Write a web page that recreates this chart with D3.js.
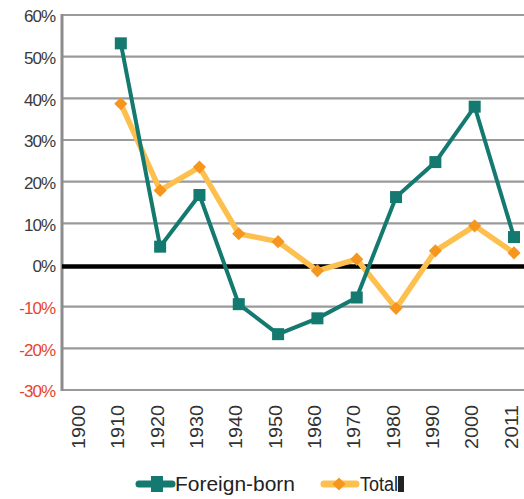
<!DOCTYPE html>
<html><head><meta charset="utf-8">
<script src="https://cdn.jsdelivr.net/npm/d3@7/dist/d3.min.js"></script>
<style>body{margin:0;background:#fff}svg{display:block}</style>
</head><body><svg id="c" width="524" height="499"></svg>
<script>
const years = ["1900","1910","1920","1930","1940","1950","1960","1970","1980","1990","2000","2011"];
const foreignBorn = [null,53.2,4.4,16.8,-9.4,-16.6,-12.8,-7.8,16.3,24.7,38.0,6.7];
const total = [null,38.7,17.9,23.5,7.5,5.6,-1.4,1.4,-10.4,3.4,9.4,2.9];
const yTicks = [60,50,40,30,20,10,0,-10,-20,-30];
const seriesNames = ["Foreign-born","Total"];

const svg = d3.select("#c");
const x = d3.scalePoint().domain(years).range([81.5,514]);
const y = d3.scaleLinear().domain([-30,60]).range([390,15]);
const L = 62, R = 524;
const FONT = "Liberation Sans, Arial, sans-serif";

// gridlines
svg.append("g").selectAll("line").data(yTicks.filter(d=>d!==0)).join("line")
  .attr("x1",L).attr("x2",R).attr("y1",d=>y(d)).attr("y2",d=>y(d))
  .attr("stroke","#9a9a9a").attr("stroke-width",2.2);

// y axis
const yAxis = d3.axisLeft(y).tickValues(yTicks).tickSize(0).tickPadding(7).tickFormat(d=>d+"%");
const ga = svg.append("g").attr("transform",`translate(${L},0)`).call(yAxis);
ga.select(".domain").remove();
ga.selectAll("text").attr("font-family",FONT).attr("font-size",17)
  .attr("fill",d=>d<0?"#e8442c":"#3a3a3a").attr("letter-spacing",-1).attr("dy","0.4em");
svg.append("line").attr("x1",L).attr("x2",L).attr("y1",14).attr("y2",391)
  .attr("stroke","#8c8c8c").attr("stroke-width",3);

// x axis labels
const xAxis = d3.axisBottom(x).tickSize(0).tickPadding(0);
const gx = svg.append("g").attr("transform",`translate(0,${y(-30)})`).call(xAxis);
gx.select(".domain").remove();
gx.selectAll("text").attr("font-family",FONT).attr("font-size",19)
  .attr("fill","#333").attr("text-anchor","end").attr("dy",0).attr("y",0)
  .attr("textLength",44).attr("lengthAdjust","spacingAndGlyphs")
  .attr("transform",`translate(3,15) rotate(-90)`);

// zero line
svg.append("line").attr("x1",L).attr("x2",R).attr("y1",y(0)+1.5).attr("y2",y(0)+1.5)
  .attr("stroke","#000").attr("stroke-width",4.5);

const line = d3.line().defined(d=>d.v!==null).x(d=>x(d.k)).y(d=>y(d.v));
const fbData = years.map((k,i)=>({k,v:foreignBorn[i]}));
const tData = years.map((k,i)=>({k,v:total[i]}));

svg.append("path").datum(tData).attr("d",line).attr("fill","none")
  .attr("stroke","#fdc04f").attr("stroke-width",5.5).attr("stroke-linejoin","round");
svg.append("path").datum(fbData).attr("d",line).attr("fill","none")
  .attr("stroke","#14796f").attr("stroke-width",4);

svg.append("g").selectAll("rect").data(fbData.filter(d=>d.v!==null)).join("rect")
  .attr("x",d=>x(d.k)-6).attr("y",d=>y(d.v)-6).attr("width",12).attr("height",12).attr("fill","#14796f");
const diamond = d3.symbol().type(d3.symbolDiamond2).size(110);
svg.append("g").selectAll("path").data(tData.filter(d=>d.v!==null)).join("path")
  .attr("d",diamond).attr("transform",d=>`translate(${x(d.k)},${y(d.v)})`).attr("fill","#f7961f");

// legend
const lg = svg.append("g").attr("font-family","Liberation Sans Narrow, Liberation Sans, Arial, sans-serif").attr("font-size",20).attr("fill","#222");
lg.append("line").attr("x1",139).attr("x2",172).attr("y1",484).attr("y2",484).attr("stroke","#14796f").attr("stroke-width",7).attr("stroke-linecap","round");
lg.append("rect").attr("x",151).attr("y",476).attr("width",12).attr("height",16).attr("fill","#14796f");
lg.append("text").attr("x",175).attr("y",491).text(seriesNames[0]).attr("textLength",120).attr("lengthAdjust","spacingAndGlyphs");
lg.append("line").attr("x1",324).attr("x2",356).attr("y1",484).attr("y2",484).attr("stroke","#fdc04f").attr("stroke-width",7).attr("stroke-linecap","round");
lg.append("path").attr("d",diamond).attr("transform","translate(339,484)").attr("fill","#f7961f");
lg.append("text").attr("x",360).attr("y",491).text(seriesNames[1]).attr("textLength",38).attr("lengthAdjust","spacingAndGlyphs");
lg.append("rect").attr("x",398).attr("y",476).attr("width",6).attr("height",16).attr("fill","#222");
</script></body></html>
